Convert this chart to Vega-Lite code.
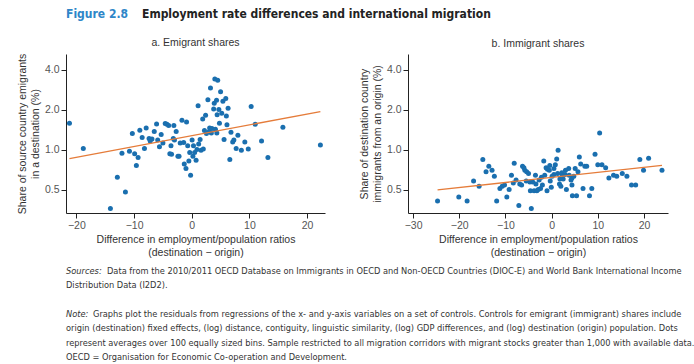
{
  "$schema": "https://vega.github.io/schema/vega-lite/v6.json",
  "background": "white",
  "padding": {"left": 17, "top": 0, "right": 5, "bottom": 0},
  "config": {
    "view": {"stroke": null},
    "font": "Liberation Sans",
    "axis": {
      "grid": false,
      "domainColor": "#222",
      "tickColor": "#222",
      "tickSize": 5,
      "labelPadding": 2,
      "labelFont": "Liberation Sans",
      "labelFontSize": 10.5,
      "labelColor": "#555",
      "titleFont": "Liberation Sans",
      "titleFontSize": 10.5,
      "titleFontWeight": "normal",
      "titleColor": "#333"
    },
    "title": {"font": "Liberation Sans", "fontSize": 10.5, "fontWeight": "normal", "color": "#333", "offset": 5}
  },
  "datasets": {
    "heading": [{"fig": "Figure 2.8", "title": "Employment rate differences and international migration"}],
    "notes": [
      {"line": 1, "lead": "Sources:", "text": "Data from the 2010/2011 OECD Database on Immigrants in OECD and Non-OECD Countries (DIOC-E) and World Bank International Income"},
      {"line": 2, "lead": "", "text": "Distribution Data (I2D2)."},
      {"line": 4, "lead": "Note:", "text": "Graphs plot the residuals from regressions of the x- and y-axis variables on a set of controls. Controls for emigrant (immigrant) shares include"},
      {"line": 5, "lead": "", "text": "origin (destination) fixed effects, (log) distance, contiguity, linguistic similarity, (log) GDP differences, and (log) destination (origin) population. Dots"},
      {"line": 6, "lead": "", "text": "represent averages over 100 equally sized bins. Sample restricted to all migration corridors with migrant stocks greater than 1,000 with available data."},
      {"line": 7, "lead": "", "text": "OECD = Organisation for Economic Co-operation and Development."}
    ],
    "emig": [
      {"diff": -21.2, "share": 1.58}, {"diff": -18.8, "share": 1.02}, {"diff": -14.1, "share": 0.36}, {"diff": -12.9, "share": 0.62},
      {"diff": -11.5, "share": 0.48}, {"diff": -12.1, "share": 0.94}, {"diff": -10.8, "share": 0.97}, {"diff": -9.9, "share": 0.93},
      {"diff": -10.3, "share": 1.32}, {"diff": -9.3, "share": 0.87}, {"diff": -9.6, "share": 0.76}, {"diff": -9.0, "share": 1.40},
      {"diff": -8.6, "share": 1.23}, {"diff": -8.2, "share": 1.02}, {"diff": -7.9, "share": 1.45}, {"diff": -7.4, "share": 1.21},
      {"diff": -7.2, "share": 1.16}, {"diff": -6.9, "share": 1.20}, {"diff": -6.5, "share": 1.37}, {"diff": -6.1, "share": 1.56},
      {"diff": -5.9, "share": 1.18}, {"diff": -5.6, "share": 1.05}, {"diff": -5.3, "share": 1.30}, {"diff": -5.0, "share": 1.12},
      {"diff": -4.6, "share": 1.57}, {"diff": -4.3, "share": 1.55}, {"diff": -4.0, "share": 1.52}, {"diff": -3.8, "share": 0.93},
      {"diff": -3.5, "share": 0.92}, {"diff": -3.6, "share": 1.07}, {"diff": -3.2, "share": 1.21}, {"diff": -3.0, "share": 1.18},
      {"diff": -3.1, "share": 1.52}, {"diff": -2.7, "share": 1.37}, {"diff": -2.4, "share": 0.89}, {"diff": -2.2, "share": 0.89},
      {"diff": -2.0, "share": 1.12}, {"diff": -1.7, "share": 1.66}, {"diff": -1.4, "share": 1.13}, {"diff": -1.3, "share": 0.78},
      {"diff": -1.0, "share": 0.72}, {"diff": -0.9, "share": 1.61}, {"diff": -0.7, "share": 1.07}, {"diff": -0.5, "share": 0.82},
      {"diff": -0.2, "share": 0.64}, {"diff": -0.35, "share": 0.95}, {"diff": 0.06, "share": 1.18}, {"diff": 0.2, "share": 0.89},
      {"diff": 0.3, "share": 1.07}, {"diff": 0.5, "share": 0.95}, {"diff": 0.75, "share": 0.83}, {"diff": 0.9, "share": 1.0},
      {"diff": 1.1, "share": 2.14}, {"diff": 1.2, "share": 1.10}, {"diff": 1.45, "share": 1.19}, {"diff": 1.6, "share": 0.99},
      {"diff": 1.9, "share": 1.70}, {"diff": 2.0, "share": 1.01}, {"diff": 2.2, "share": 1.39}, {"diff": 2.4, "share": 1.81},
      {"diff": 2.55, "share": 1.32}, {"diff": 2.8, "share": 2.37}, {"diff": 3.0, "share": 1.36}, {"diff": 3.1, "share": 1.45},
      {"diff": 3.25, "share": 2.91}, {"diff": 3.4, "share": 1.33}, {"diff": 3.5, "share": 1.44}, {"diff": 3.8, "share": 2.02},
      {"diff": 3.9, "share": 2.23}, {"diff": 4.0, "share": 3.40}, {"diff": 4.1, "share": 1.42}, {"diff": 4.3, "share": 2.35},
      {"diff": 4.4, "share": 1.83}, {"diff": 4.5, "share": 3.33}, {"diff": 4.7, "share": 2.0}, {"diff": 4.8, "share": 1.58},
      {"diff": 4.35, "share": 1.33}, {"diff": 5.0, "share": 2.72}, {"diff": 5.2, "share": 1.88}, {"diff": 5.4, "share": 2.31},
      {"diff": 5.6, "share": 1.19}, {"diff": 5.9, "share": 2.42}, {"diff": 6.0, "share": 1.79}, {"diff": 6.1, "share": 1.54},
      {"diff": 6.3, "share": 2.05}, {"diff": 6.6, "share": 0.84}, {"diff": 6.8, "share": 1.35}, {"diff": 7.1, "share": 1.14},
      {"diff": 7.3, "share": 1.18}, {"diff": 7.7, "share": 1.02}, {"diff": 8.0, "share": 1.28}, {"diff": 8.6, "share": 0.99},
      {"diff": 9.2, "share": 1.14}, {"diff": 9.8, "share": 1.01}, {"diff": 10.3, "share": 2.11}, {"diff": 11.0, "share": 1.55},
      {"diff": 12.1, "share": 1.16}, {"diff": 13.2, "share": 0.87}, {"diff": 15.8, "share": 1.47}, {"diff": 22.3, "share": 1.08}
    ],
    "emigFit": [{"diff": -21.2, "share": 0.856}, {"diff": 22.3, "share": 1.93}],
    "immig": [
      {"diff": -24.7, "share": 0.41}, {"diff": -20.1, "share": 0.44}, {"diff": -18.3, "share": 0.41}, {"diff": -16.9, "share": 0.58},
      {"diff": -15.7, "share": 0.53}, {"diff": -14.9, "share": 0.84}, {"diff": -14.2, "share": 0.68}, {"diff": -13.6, "share": 0.75},
      {"diff": -12.9, "share": 0.70}, {"diff": -12.4, "share": 0.63}, {"diff": -11.9, "share": 0.41}, {"diff": -11.2, "share": 0.51},
      {"diff": -10.7, "share": 0.53}, {"diff": -10.2, "share": 0.54}, {"diff": -9.7, "share": 0.44}, {"diff": -9.2, "share": 0.50},
      {"diff": -8.7, "share": 0.64}, {"diff": -8.1, "share": 0.79}, {"diff": -8.3, "share": 0.56}, {"diff": -7.7, "share": 0.59},
      {"diff": -7.1, "share": 0.38}, {"diff": -6.9, "share": 0.55}, {"diff": -6.5, "share": 0.54}, {"diff": -6.3, "share": 0.75},
      {"diff": -6.0, "share": 0.73}, {"diff": -5.8, "share": 0.70}, {"diff": -5.4, "share": 0.68}, {"diff": -5.0, "share": 0.66},
      {"diff": -5.5, "share": 0.58}, {"diff": -4.7, "share": 0.57}, {"diff": -4.6, "share": 0.49}, {"diff": -4.4, "share": 0.36},
      {"diff": -4.1, "share": 0.57}, {"diff": -3.8, "share": 0.49}, {"diff": -3.5, "share": 0.64}, {"diff": -3.2, "share": 0.49},
      {"diff": -2.9, "share": 0.50}, {"diff": -2.7, "share": 0.59}, {"diff": -2.4, "share": 0.51}, {"diff": -2.2, "share": 0.62},
      {"diff": -2.0, "share": 0.54}, {"diff": -1.7, "share": 0.82}, {"diff": -1.5, "share": 0.64}, {"diff": -1.2, "share": 0.73},
      {"diff": -1.0, "share": 0.49}, {"diff": -0.9, "share": 0.71}, {"diff": -0.5, "share": 0.70}, {"diff": -0.3, "share": 0.58},
      {"diff": -0.07, "share": 0.52}, {"diff": 0.1, "share": 0.63}, {"diff": 0.5, "share": 0.72}, {"diff": 0.8, "share": 0.77},
      {"diff": 1.1, "share": 0.85}, {"diff": 1.3, "share": 0.66}, {"diff": 1.4, "share": 0.99}, {"diff": 1.7, "share": 0.55},
      {"diff": 2.0, "share": 0.53}, {"diff": 2.3, "share": 0.65}, {"diff": 2.5, "share": 0.60}, {"diff": 2.9, "share": 0.65},
      {"diff": 3.2, "share": 0.50}, {"diff": 3.7, "share": 0.72}, {"diff": 3.8, "share": 0.64}, {"diff": 4.2, "share": 0.59},
      {"diff": 4.4, "share": 0.61}, {"diff": 4.5, "share": 0.45}, {"diff": 4.8, "share": 0.63}, {"diff": 5.1, "share": 0.72},
      {"diff": 5.4, "share": 0.45}, {"diff": 5.7, "share": 0.68}, {"diff": 6.0, "share": 0.88}, {"diff": 6.3, "share": 0.78},
      {"diff": 6.8, "share": 0.51}, {"diff": 7.2, "share": 0.75}, {"diff": 7.6, "share": 0.75}, {"diff": 8.2, "share": 0.45},
      {"diff": 8.7, "share": 0.51}, {"diff": 9.4, "share": 0.92}, {"diff": 10.0, "share": 0.77}, {"diff": 10.4, "share": 1.33},
      {"diff": 10.9, "share": 0.77}, {"diff": 11.7, "share": 0.73}, {"diff": 12.4, "share": 0.61}, {"diff": 13.4, "share": 0.64},
      {"diff": 14.1, "share": 0.63}, {"diff": 15.3, "share": 0.66}, {"diff": 16.3, "share": 0.63}, {"diff": 17.3, "share": 0.54},
      {"diff": 18.2, "share": 0.54}, {"diff": 19.1, "share": 0.84}, {"diff": 19.9, "share": 0.70}, {"diff": 21.0, "share": 0.86},
      {"diff": 23.9, "share": 0.70}, {"diff": 0.5, "share": 0.65}, {"diff": 2.2, "share": 0.67}, {"diff": 4.4, "share": 0.54},
      {"diff": -0.4, "share": 0.76}, {"diff": 3.0, "share": 0.70}, {"diff": -3.4, "share": 0.55}, {"diff": 1.8, "share": 0.60}
    ],
    "immigFit": [{"diff": -24.7, "share": 0.497}, {"diff": 23.9, "share": 0.76}]
  },
  "spacing": 15,
  "vconcat": [
    {
      "width": 300,
      "height": 22,
      "data": {"name": "heading"},
      "layer": [
        {
          "mark": {"type": "text", "align": "left", "baseline": "alphabetic", "font": "DejaVu Sans Condensed, Liberation Sans", "fontWeight": "bold", "fontSize": 12, "color": "#2e86c8"},
          "encoding": {"x": {"value": 0}, "y": {"value": 18}, "text": {"field": "fig"}}
        },
        {
          "mark": {"type": "text", "align": "left", "baseline": "alphabetic", "font": "DejaVu Sans Condensed, Liberation Sans", "fontWeight": "bold", "fontSize": 12, "color": "#222", "dx": 76},
          "encoding": {"x": {"value": 0}, "y": {"value": 18}, "text": {"field": "title"}}
        }
      ]
    },
    {
      "spacing": 6,
      "vconcat": [
        {
          "spacing": 34,
          "hconcat": [
            {
              "width": 259,
              "height": 159,
              "title": {"text": "a. Emigrant shares"},
              "layer": [
                {
                  "data": {"name": "emig"},
                  "mark": {"type": "circle", "size": 25, "opacity": 1, "color": "#1a6faf"},
                  "encoding": {
                    "x": {"field": "diff", "type": "quantitative", "scale": {"domain": [-21.8, 23.1], "nice": false, "zero": false},
                          "axis": {"values": [-20, -10, 0, 10, 20], "title": ["Difference in employment/population ratios", "(destination − origin)"]}},
                    "y": {"field": "share", "type": "quantitative", "scale": {"type": "log", "domain": [0.333, 5.24], "nice": false},
                          "axis": {"values": [0.5, 1, 2, 4], "format": ".1f", "title": ["Share of source country emigrants", "in a destination (%)"]}}
                  }
                },
                {
                  "data": {"name": "emigFit"},
                  "mark": {"type": "line", "color": "#e57c3a", "strokeWidth": 1.3},
                  "encoding": {"x": {"field": "diff", "type": "quantitative"}, "y": {"field": "share", "type": "quantitative"}}
                }
              ]
            },
            {
              "width": 260,
              "height": 159,
              "title": {"text": "b. Immigrant shares"},
              "layer": [
                {
                  "data": {"name": "immig"},
                  "mark": {"type": "circle", "size": 25, "opacity": 1, "color": "#1a6faf"},
                  "encoding": {
                    "x": {"field": "diff", "type": "quantitative", "scale": {"domain": [-31.1, 25.2], "nice": false, "zero": false},
                          "axis": {"values": [-30, -20, -10, 0, 10, 20], "title": ["Difference in employment/population ratios", "(destination − origin)"]}},
                    "y": {"field": "share", "type": "quantitative", "scale": {"type": "log", "domain": [0.333, 5.24], "nice": false},
                          "axis": {"values": [0.5, 1, 2, 4], "format": ".1f", "title": ["Share of destination country", "immigrants from an origin (%)"]}}
                  }
                },
                {
                  "data": {"name": "immigFit"},
                  "mark": {"type": "line", "color": "#e57c3a", "strokeWidth": 1.3},
                  "encoding": {"x": {"field": "diff", "type": "quantitative"}, "y": {"field": "share", "type": "quantitative"}}
                }
              ]
            }
          ]
        },
        {
          "width": 300,
          "height": {"step": 14.3},
          "data": {"name": "notes"},
          "encoding": {
            "y": {"field": "line", "type": "ordinal", "scale": {"domain": [1, 2, 3, 4, 5, 6, 7]}, "axis": null},
            "x": {"value": 0}
          },
          "layer": [
            {
              "transform": [{"filter": "datum.lead != ''"}],
              "mark": {"type": "text", "align": "left", "font": "DejaVu Sans Condensed, Liberation Sans", "fontSize": 9.2, "fontStyle": "italic", "color": "#333"},
              "encoding": {"text": {"field": "lead"}}
            },
            {
              "transform": [{"filter": "datum.line == 1"}],
              "mark": {"type": "text", "align": "left", "font": "DejaVu Sans Condensed, Liberation Sans", "fontSize": 9.2, "color": "#333", "dx": 41},
              "encoding": {"text": {"field": "text"}}
            },
            {
              "transform": [{"filter": "datum.line == 4"}],
              "mark": {"type": "text", "align": "left", "font": "DejaVu Sans Condensed, Liberation Sans", "fontSize": 9.2, "color": "#333", "dx": 27},
              "encoding": {"text": {"field": "text"}}
            },
            {
              "transform": [{"filter": "datum.lead == ''"}],
              "mark": {"type": "text", "align": "left", "font": "DejaVu Sans Condensed, Liberation Sans", "fontSize": 9.2, "color": "#333"},
              "encoding": {"text": {"field": "text"}}
            }
          ]
        }
      ]
    }
  ]
}
